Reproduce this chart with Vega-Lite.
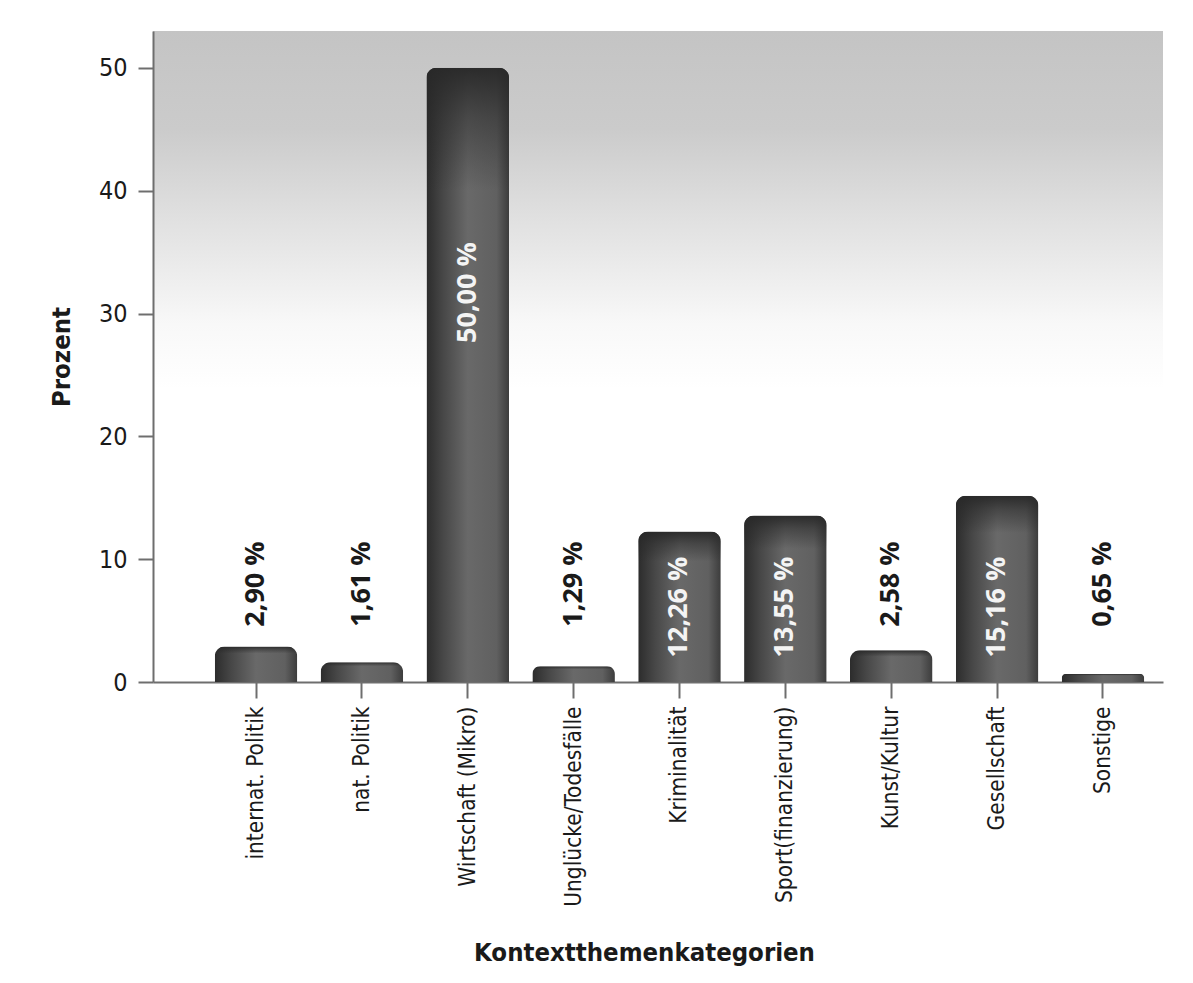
{
  "$schema": "https://vega.github.io/schema/vega-lite/v6.json",
  "autosize": {"type": "none"},
  "padding": {"left": 153, "top": 31, "right": 30, "bottom": 301},
  "width": 1010,
  "height": 651,
  "background": "#ffffff",
  "config": {
    "view": {
      "stroke": null,
      "fill": {
        "gradient": "linear", "x1": 0, "y1": 0, "x2": 0, "y2": 1,
        "stops": [
          {"offset": 0, "color": "#c4c4c4"},
          {"offset": 0.15, "color": "#cbcbcb"},
          {"offset": 0.3, "color": "#e2e2e2"},
          {"offset": 0.45, "color": "#f8f8f8"},
          {"offset": 0.55, "color": "#ffffff"},
          {"offset": 1, "color": "#ffffff"}
        ]
      }
    },
    "axis": {
      "domainColor": "#6e6e6e",
      "domainWidth": 2,
      "tickColor": "#6e6e6e",
      "tickWidth": 2,
      "labelColor": "#1a1a1a",
      "titleColor": "#1a1a1a",
      "grid": false,
      "labelFont": "DejaVu Sans Condensed, DejaVu Sans",
      "titleFont": "DejaVu Sans Condensed, DejaVu Sans"
    }
  },
  "data": {
    "values": [
      {"kategorie": "internat. Politik", "prozent": 2.90, "label": "2,90 %"},
      {"kategorie": "nat. Politik", "prozent": 1.61, "label": "1,61 %"},
      {"kategorie": "Wirtschaft (Mikro)", "prozent": 50.00, "label": "50,00 %"},
      {"kategorie": "Unglücke/Todesfälle", "prozent": 1.29, "label": "1,29 %"},
      {"kategorie": "Kriminalität", "prozent": 12.26, "label": "12,26 %"},
      {"kategorie": "Sport(finanzierung)", "prozent": 13.55, "label": "13,55 %"},
      {"kategorie": "Kunst/Kultur", "prozent": 2.58, "label": "2,58 %"},
      {"kategorie": "Gesellschaft", "prozent": 15.16, "label": "15,16 %"},
      {"kategorie": "Sonstige", "prozent": 0.65, "label": "0,65 %"}
    ]
  },
  "encoding": {
    "x": {
      "field": "kategorie", "type": "nominal", "sort": null,
      "scale": {"paddingInner": 0.22, "paddingOuter": 0.38, "align": 0.767},
      "axis": {
        "title": "Kontextthemenkategorien",
        "labelAngle": -90, "labelAlign": "right", "labelBaseline": "middle",
        "labelFontSize": 22.5, "labelPadding": 8, "labelLimit": 0, "tickSize": 16,
        "titleFontSize": 25.5, "titleFontWeight": "bold",
        "titleX": 491, "titleY": 278, "titleAlign": "center", "titleBaseline": "alphabetic"
      }
    }
  },
  "layer": [
    {
      "mark": {
        "type": "bar", "cornerRadiusTopLeft": 10, "cornerRadiusTopRight": 10,
        "color": {
          "gradient": "linear", "x1": 0, "y1": 0, "x2": 1, "y2": 0,
          "stops": [
            {"offset": 0, "color": "#2c2c2c"},
            {"offset": 0.2, "color": "#474747"},
            {"offset": 0.5, "color": "#696969"},
            {"offset": 0.85, "color": "#606060"},
            {"offset": 1, "color": "#3c3c3c"}
          ]
        }
      },
      "encoding": {
        "y": {
          "field": "prozent", "type": "quantitative",
          "scale": {"domain": [0, 53], "nice": false},
          "axis": {
            "title": "Prozent", "values": [0, 10, 20, 30, 40, 50],
            "tickSize": 15, "labelPadding": 11, "labelFontSize": 25,
            "titleFontSize": 25.5, "titleFontWeight": "bold", "titlePadding": 24
          }
        }
      }
    },
    {
      "mark": {
        "type": "bar", "cornerRadiusTopLeft": 10, "cornerRadiusTopRight": 10,
        "color": {
          "gradient": "linear", "x1": 0, "y1": 0, "x2": 0, "y2": 1,
          "stops": [
            {"offset": 0, "color": "rgba(40,40,40,0.95)"},
            {"offset": 0.08, "color": "rgba(40,40,40,0.5)"},
            {"offset": 0.2, "color": "rgba(40,40,40,0)"},
            {"offset": 1, "color": "rgba(40,40,40,0)"}
          ]
        }
      },
      "encoding": {
        "y": {"field": "prozent", "type": "quantitative"}
      }
    },
    {
      "transform": [{"filter": "datum.prozent < 5"}],
      "mark": {
        "type": "text", "angle": 270, "align": "left", "baseline": "middle",
        "font": "Open Sans", "fontWeight": "bold", "fontSize": 27, "color": "#1a1a1a"
      },
      "encoding": {
        "y": {"datum": 4.5},
        "text": {"field": "label"}
      }
    },
    {
      "transform": [{"filter": "datum.prozent >= 5 && datum.prozent < 40"}],
      "mark": {
        "type": "text", "angle": 270, "align": "left", "baseline": "middle",
        "font": "Open Sans", "fontWeight": "bold", "fontSize": 27, "color": "#f4f4f4"
      },
      "encoding": {
        "y": {"datum": 2.0},
        "text": {"field": "label"}
      }
    },
    {
      "transform": [{"filter": "datum.prozent >= 40"}],
      "mark": {
        "type": "text", "angle": 270, "align": "left", "baseline": "middle",
        "font": "Open Sans", "fontWeight": "bold", "fontSize": 27, "color": "#f4f4f4"
      },
      "encoding": {
        "y": {"datum": 27.6},
        "text": {"field": "label"}
      }
    }
  ]
}
